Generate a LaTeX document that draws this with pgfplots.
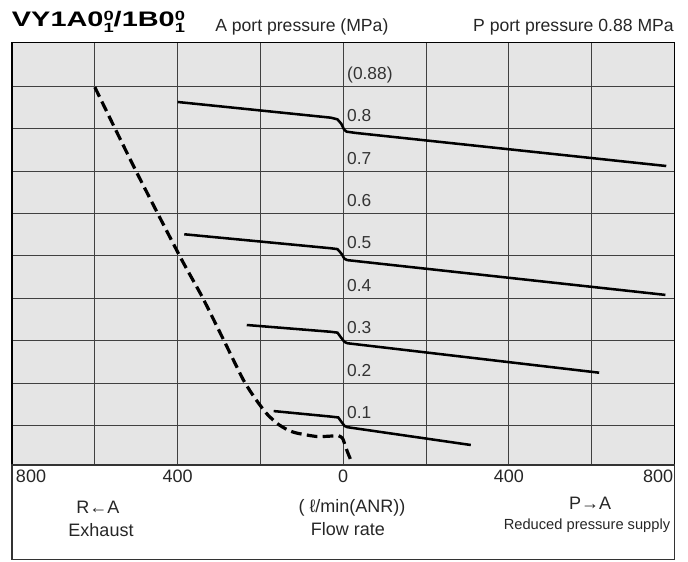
\documentclass[border=0pt]{standalone}
\usepackage{pgfplots}
\pgfplotsset{compat=1.18}
\usepackage{fontspec}
\setmainfont{Liberation Sans}
\usepackage{graphicx}
\newcommand\stk{\rlap{\raisebox{4.6pt}{\fontsize{10}{12}\selectfont 0}}\raisebox{-4.6pt}{\fontsize{10}{12}\selectfont 1}}
\newcommand\lbl{\fontsize{13}{15}\selectfont}
\begin{document}
\begin{tikzpicture}
\begin{axis}[
  at={(9pt,-348.75pt)}, anchor=south west,
  scale only axis, width=496.875pt, height=316.875pt,
  xmin=-800, xmax=800, ymin=0.0068, ymax=1.0033,
  xtick={-800,-600,-400,-200,0,200,400,600,800},
  xticklabels={\makebox[0pt][l]{\hspace{3pt}800},,400,,0,,400,,\makebox[0pt][r]{800\hspace{1pt}}},
  ytick={0.1,0.2,0.3,0.4,0.5,0.6,0.7,0.8,0.9}, yticklabels={},
  major tick length=0pt,
  grid=major, grid style={black!75, line width=0.7pt},
  axis line style={black, line width=0.9pt},
  axis background/.style={fill=black!10},
  xticklabel style={anchor=base, yshift=-12.75pt, inner sep=0pt, font=\fontsize{13.5}{16}\selectfont, text=black!85},
]
% 0.8 MPa
\addplot[black, line width=1.9pt] coordinates {(-400,0.863) (-30,0.826) (-14,0.822) (-5,0.812) (2,0.798) (8,0.793) (30,0.790) (780,0.712)};
% 0.5 MPa
\addplot[black, line width=1.9pt] coordinates {(-384,0.551) (-30,0.518) (-14,0.516) (-5,0.506) (3,0.493) (10,0.490) (778,0.408)};
% 0.3 MPa
\addplot[black, line width=1.9pt] coordinates {(-233,0.337) (-30,0.321) (-14,0.319) (-5,0.307) (3,0.297) (10,0.294) (618,0.2245)};
% 0.1 MPa
\addplot[black, line width=1.9pt] coordinates {(-168,0.134) (-30,0.121) (-12,0.119) (-4,0.108) (3,0.099) (10,0.096) (308,0.054)};
% exhaust
\addplot[black, line width=2.4pt, dash pattern=on 8pt off 4pt, smooth, tension=0.4] coordinates {(-600,0.898) (-502,0.703) (-394,0.498) (-341,0.404) (-289,0.302) (-241,0.207) (-210,0.160) (-185,0.128) (-160,0.105) (-135,0.090) (-112,0.082) (-64,0.074) (-30,0.075) (-12,0.076) (-2,0.070) (4,0.055) (10,0.038) (21,0.012)};
% labels
\foreach \v/\t in {0.915/(0.88), 0.8165/0.8, 0.7165/0.7, 0.6165/0.6, 0.5165/0.5, 0.4165/0.4, 0.3165/0.3, 0.2165/0.2, 0.1165/0.1}{
  \edef\tmp{\noexpand\node[anchor=base west, inner sep=0pt, text=black!80, font=\noexpand\lbl] at (axis cs:9,\v) {\t};}
  \tmp
}
\end{axis}
\begin{scope}[x=0.75pt,y=-0.75pt]
\path[use as bounding box] (0,0) rectangle (688,561);
\draw[line width=0.8pt, black!80] (12,465) rectangle (674.5,559.5);
\node[anchor=base west, inner sep=0pt] at (11.7,26.7) {\resizebox{129.75pt}{\height}{\fontsize{15.75}{18}\selectfont\bfseries VY1A0\stk/1B0\stk}};
\node[anchor=base west, inner sep=0pt, font=\fontsize{13.2}{16}\selectfont, text=black!85] at (215,31.7) {A port pressure (MPa)};
\node[anchor=base east, inner sep=0pt, font=\fontsize{13.2}{16}\selectfont, text=black!85] at (674,31.7) {P port pressure 0.88 MPa};
\begin{scope}[every node/.style={anchor=base, inner sep=0pt, font=\fontsize{13.5}{16}\selectfont, text=black!85}]
\node at (98,513) {R←A};
\node at (101,536) {Exhaust};
\node at (352,512) {( ℓ/min(ANR))};
\node at (348,535) {Flow rate};
\node at (590,509) {P→A};
\node[font=\fontsize{11}{13}\selectfont] at (587,529) {Reduced pressure supply};
\end{scope}
\end{scope}
\end{tikzpicture}
\end{document}
